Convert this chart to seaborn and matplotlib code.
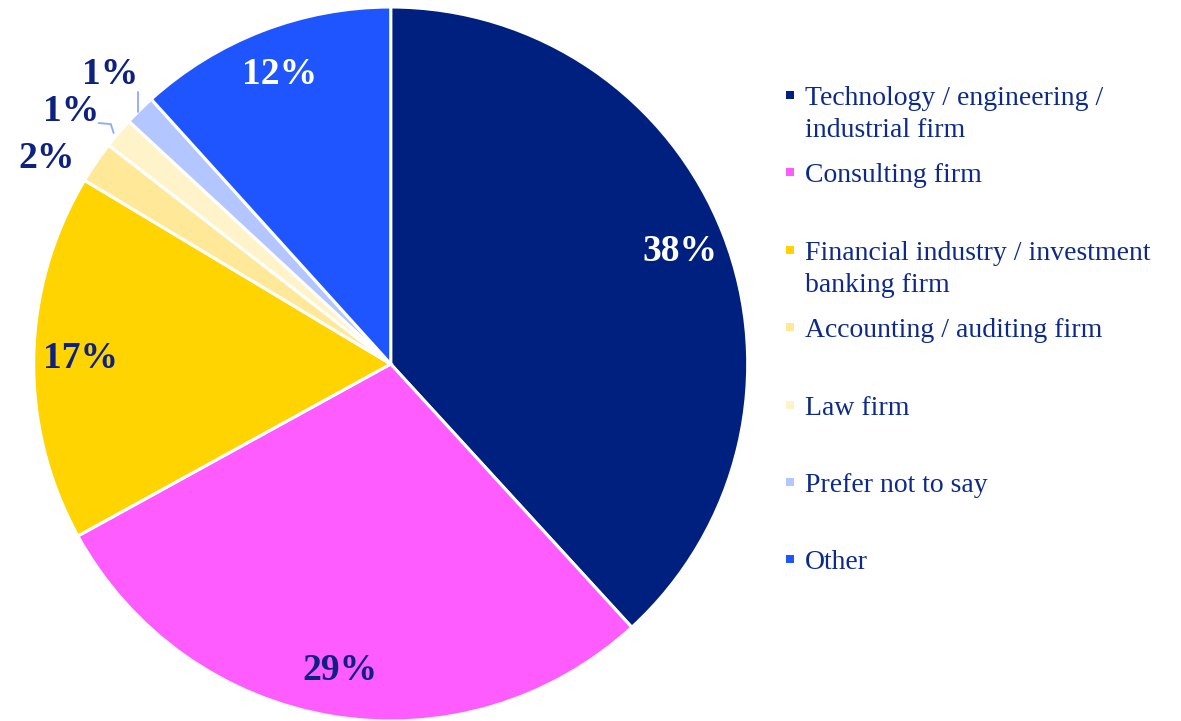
import numpy as np
import seaborn as sns
import matplotlib.pyplot as plt
from matplotlib.patches import Rectangle

categories = [
    'Technology / engineering /\nindustrial firm',
    'Consulting firm',
    'Financial industry / investment\nbanking firm',
    'Accounting / auditing firm',
    'Law firm',
    'Prefer not to say',
    'Other',
]
shares = [38.2, 28.8, 16.6, 1.9, 1.4, 1.4, 11.7]
pct_labels = ['38%', '29%', '17%', '2%', '1%', '1%', '12%']
colors = ['#00207f', '#ff5cff', '#ffd400', '#ffe999', '#fff4c9', '#b3c6ff', '#1f55ff']
label_colors = ['white', '#0d2280', '#0d2280', '#0d2280', '#0d2280', '#0d2280', 'white']

sns.set_theme(style='white')
plt.rcParams['font.family'] = ['Liberation Serif', 'DejaVu Serif']
navy = '#0d2a8a'

fig = plt.figure(figsize=(11.81, 7.21), dpi=100)
ax = fig.add_axes([33.7 / 1181, 0.0, 714 / 1181, 714 / 721])

wedges, _ = ax.pie(
    shares,
    colors=sns.color_palette(colors),
    startangle=90,
    counterclock=False,
    radius=1.0,
    wedgeprops=dict(edgecolor='white', linewidth=2.2),
)
ax.set_xlim(-1, 1)
ax.set_ylim(-1, 1)
ax.set_aspect('equal')
ax.axis('off')

# labels: big slices inside, tiny ones outside on the upper left
outside = {3: (-0.963, 0.577), 4: (-0.896, 0.706), 5: (-0.785, 0.810)}
for i, w in enumerate(wedges):
    if i in outside:
        x, y = outside[i]
    else:
        mid = np.deg2rad((w.theta1 + w.theta2) / 2)
        x, y = 0.87 * np.cos(mid), 0.87 * np.sin(mid)
    ax.text(x, y, pct_labels[i], ha='center', va='center', fontsize=27,
            fontweight='bold', color=label_colors[i])

# leader lines for the two 1% slices
ax.plot([-0.776, -0.784, -0.818], [0.647, 0.672, 0.675], color='#8fa8ff', lw=1.3)
ax.plot([-0.709, -0.709], [0.706, 0.762], color='#8fa8ff', lw=1.3)

# legend drawn by hand to keep the even row pitch
base0 = 105
pitch = 77.4
line_h = 31.7
for i, (cat, col) in enumerate(zip(categories, colors)):
    yb = base0 + i * pitch
    fig.patches.append(Rectangle((786 / 1181, 1 - (yb - 6) / 721), 8 / 1181, 8 / 721,
                                 transform=fig.transFigure, facecolor=col, edgecolor='none'))
    for j, line in enumerate(cat.split('\n')):
        fig.text(805 / 1181, 1 - (yb + j * line_h) / 721, line, ha='left',
                 va='baseline', fontsize=20, color=navy)

fig.savefig('out.png', dpi=100)
